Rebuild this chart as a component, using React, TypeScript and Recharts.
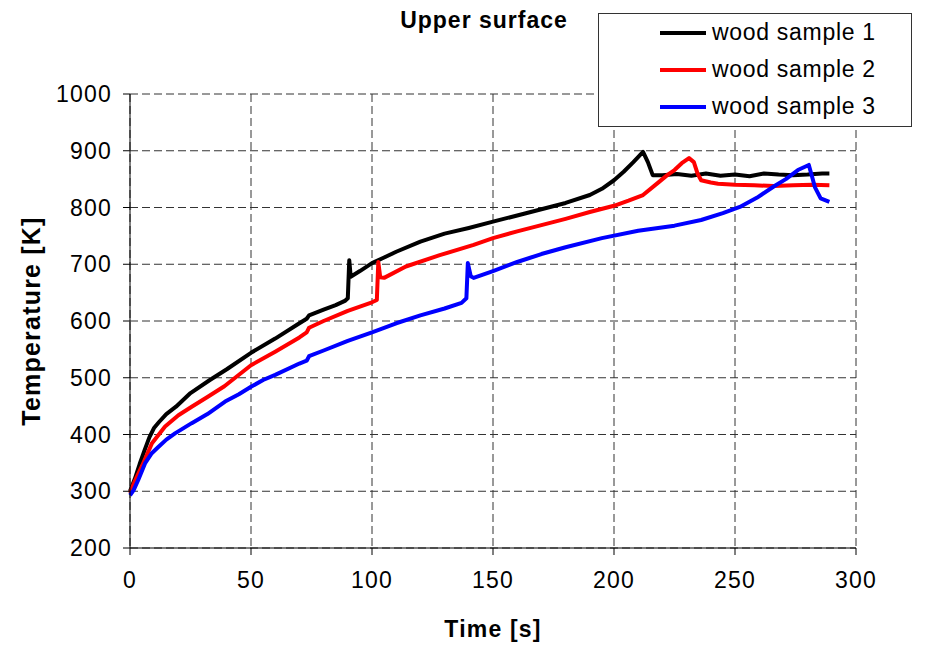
import { LineChart, Line, XAxis, YAxis, CartesianGrid, Legend, Label } from "recharts";

// time [s] / temperature [K] readings, one pair of arrays per sample
const sample1Time = [0, 2, 4, 6, 8, 10, 12, 15, 19, 25, 33, 40, 50, 60, 70, 73, 74, 80, 85, 89, 90, 90.6, 91.2, 95, 100, 105, 110, 120, 130, 140, 150, 160, 170, 180, 190, 195, 200, 204, 208, 212, 214, 216, 220, 226, 232, 238, 244, 250, 256, 262, 268, 274, 280, 286, 289];
const sample1Temp = [300, 322, 348, 372, 395, 412, 422, 436, 449, 473, 496, 515, 544, 569, 596, 604, 610, 620, 628, 636, 640, 707, 678, 688, 702, 712, 722, 740, 754, 764, 775, 786, 797, 808, 822, 833, 848, 863, 880, 898, 880, 857, 857, 859, 856, 860, 856, 858, 855, 860, 858, 857, 858, 860, 860];

const sample2Time = [0, 2, 5, 9, 14.5, 20, 25.5, 32, 39, 50, 60, 70, 73, 74, 80, 90, 100, 102, 102.6, 103.4, 105, 114, 128, 142, 150, 160, 170, 180, 190, 200, 206, 212, 218, 222, 225, 228, 231, 233, 234.5, 236, 240, 243, 250, 258, 266, 274, 282, 289];
const sample2Temp = [297, 318, 345, 384, 414, 434, 449, 466, 485, 522, 546, 571, 580, 588, 600, 618, 633, 637, 704, 677, 676, 696, 716, 734, 746, 758, 769, 780, 792, 803, 812, 822, 843, 857, 866, 878, 887, 880, 860, 848, 844, 842, 840, 839, 838, 839, 840, 839];

const sample3Time = [0, 1.5, 3.4, 6.2, 9, 11.7, 15, 18.6, 25.5, 32, 39.3, 45, 50, 55, 60, 70, 73, 74, 80, 90, 100, 110, 120, 130, 137, 139, 139.6, 140.8, 142, 150, 160, 170, 180, 195, 210, 225, 236, 245, 252, 259, 266, 271, 276, 280.5, 281.8, 283, 285.4, 289];
const sample3Temp = [293, 302, 320, 349, 367, 378, 391, 402, 420, 436, 458, 471, 484, 496, 505, 525, 530, 538, 548, 565, 580, 596, 610, 622, 632, 640, 702, 679, 676, 688, 704, 718, 730, 746, 759, 768, 778, 790, 801, 817, 837, 850, 866, 875, 855, 836, 816, 810];

const timeTicks = [0, 50, 100, 150, 200, 250, 300];
const tempTicks = [200, 300, 400, 500, 600, 700, 800, 900, 1000];

const toPoints = (times: number[], temps: number[]) =>
  times.map((t, i) => ({ t, T: temps[i] }));

const series = [
  { name: "wood sample 1", color: "#000000", data: toPoints(sample1Time, sample1Temp) },
  { name: "wood sample 2", color: "#ff0000", data: toPoints(sample2Time, sample2Temp) },
  { name: "wood sample 3", color: "#0000ff", data: toPoints(sample3Time, sample3Temp) },
];

function LegendBox({ payload }: any) {
  return (
    <div
      style={{
        width: 314,
        height: 114,
        boxSizing: "border-box",
        border: "1px solid #333",
        background: "#fff",
      }}
    >
      {(payload || []).map((entry: any) => (
        <div key={entry.value} style={{ display: "flex", alignItems: "center", height: 37 }}>
          <span
            style={{
              display: "inline-block",
              width: 46,
              height: 4,
              marginLeft: 61,
              marginRight: 6,
              background: entry.color,
            }}
          />
          <span style={{ fontSize: 23, letterSpacing: 0.7, color: "#000" }}>{entry.value}</span>
        </div>
      ))}
    </div>
  );
}

function YTitle({ viewBox }: any) {
  const cx = viewBox.x + 31;
  const cy = viewBox.y + viewBox.height / 2;
  return (
    <text
      x={cx}
      y={cy}
      transform={`rotate(-90, ${cx}, ${cy})`}
      textAnchor="middle"
      dominantBaseline="central"
      fontSize={25}
      fontWeight="bold"
      fill="#000"
    >
      Temperature [K]
    </text>
  );
}

export default function App() {
  return (
    <div
      style={{
        position: "absolute",
        left: 0,
        top: 0,
        width: 936,
        height: 646,
        background: "#fff",
        fontFamily: "'Liberation Sans', Arial, sans-serif",
        letterSpacing: 1.2,
      }}
    >
      <div
        style={{
          position: "absolute",
          left: 384,
          top: 7,
          width: 200,
          textAlign: "center",
          fontSize: 23,
          fontWeight: "bold",
          letterSpacing: 1,
          zIndex: 2,
        }}
      >
        Upper surface
      </div>
      <LineChart width={936} height={646} margin={{ top: 94, right: 80, bottom: 38, left: 0 }}>
        <CartesianGrid stroke="#333" strokeDasharray="8 4" />
        <XAxis
          dataKey="t"
          type="number"
          domain={[0, 300]}
          ticks={timeTicks}
          height={60}
          stroke="#000"
          tickSize={7}
          tickMargin={17}
          tick={{ fill: "#000", fontSize: 23 }}
        >
          <Label value="Time [s]" position="bottom" offset={13} fontSize={23} fontWeight="bold" fill="#000" />
        </XAxis>
        <YAxis
          type="number"
          domain={[200, 1000]}
          ticks={tempTicks}
          width={130}
          stroke="#000"
          tickSize={7}
          tickMargin={11}
          tick={{ fill: "#000", fontSize: 23 }}
        >
          <Label content={<YTitle />} />
        </YAxis>
        <Legend
          layout="vertical"
          align="center"
          verticalAlign="middle"
          wrapperStyle={{ left: 598, top: 13, width: 314, height: 114 }}
          content={<LegendBox />}
        />
        {series.map((s) => (
          <Line
            key={s.name}
            data={s.data}
            dataKey="T"
            name={s.name}
            type="linear"
            stroke={s.color}
            strokeWidth={4}
            strokeLinejoin="round"
            dot={false}
            activeDot={false}
            legendType="line"
            isAnimationActive={false}
          />
        ))}
      </LineChart>
    </div>
  );
}
